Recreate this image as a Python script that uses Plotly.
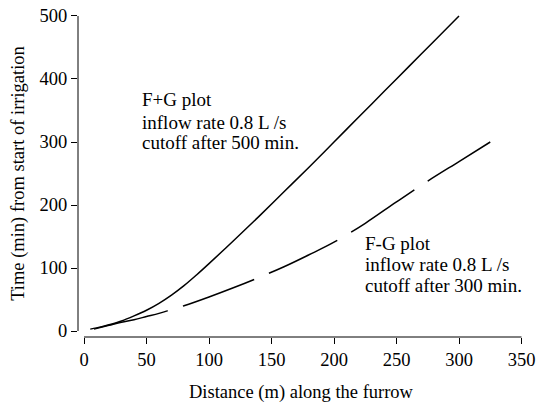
import plotly.graph_objects as go

# F+G plot (solid)
fg_x = [5, 10, 20, 30, 40, 50, 60, 70, 80, 90, 100, 120, 140, 160, 180, 200, 220, 240, 260, 280, 300]
fg_y = [3, 5, 10, 16, 24, 33, 44, 57, 72, 89, 107, 144, 182, 221, 260, 300, 340, 380, 420, 460, 500]

# F-G plot (dashed)
fmg_x = [8, 20, 30, 40, 50, 60, 70, 80, 100, 120, 140, 160, 180, 200, 225, 250, 275, 300, 325]
fmg_y = [3, 9, 14, 18, 23, 28, 34, 40, 54, 69, 85, 102, 121, 141, 171, 205, 238, 269, 300]

x_ticks = [0, 50, 100, 150, 200, 250, 300, 350]
y_ticks = [0, 100, 200, 300, 400, 500]

fg_label = ["F+G plot", "inflow rate 0.8 L /s", "cutoff after 500 min."]
fmg_label = ["F-G plot", "inflow rate 0.8 L /s", "cutoff after 300 min."]

FONT = "Liberation Serif, serif"
FS = 18.5

fig = go.Figure()
fig.add_trace(go.Scatter(x=fg_x, y=fg_y, mode="lines", line=dict(color="black", width=1.5, shape="spline"),
                         showlegend=False, hoverinfo="skip"))
fig.add_trace(go.Scatter(x=fmg_x, y=fmg_y, mode="lines",
                         line=dict(color="black", width=1.5, dash="76px,16px", shape="spline"),
                         showlegend=False, hoverinfo="skip"))

# detached axis lines
fig.add_shape(type="line", xref="x", yref="paper", x0=x_ticks[0], x1=x_ticks[-1], y0=0, y1=0,
              line=dict(color="black", width=1))
fig.add_shape(type="line", xref="paper", yref="y", x0=0, x1=0, y0=y_ticks[0], y1=y_ticks[-1],
              line=dict(color="black", width=1))

# text blocks, one annotation per line
for txt, yy in zip(fg_label, [366.7, 331.7, 300.0]):
    fig.add_annotation(x=44.8, y=yy, xref="x", yref="y", xanchor="left", yanchor="middle", align="left",
                       showarrow=False, text=txt, font=dict(family=FONT, size=19, color="black"))
for txt, yy in zip(fmg_label, [139.7, 104.8, 73.0]):
    fig.add_annotation(x=223.5, y=yy, xref="x", yref="y", xanchor="left", yanchor="middle", align="left",
                       showarrow=False, text=txt, font=dict(family=FONT, size=19, color="black"))

fig.update_layout(
    width=536, height=403,
    margin=dict(l=78, r=12, t=10, b=66),
    paper_bgcolor="white", plot_bgcolor="white",
    font=dict(family=FONT, size=FS, color="black"),
    xaxis=dict(range=[-4.8, 352], tickvals=x_ticks, ticks="outside", ticklen=6, tickwidth=1,
               tickcolor="black", showgrid=False, zeroline=False, showline=False, automargin=False,
               title=dict(text="Distance (m) along the furrow", standoff=16,
                          font=dict(family=FONT, size=FS, color="black")),
               tickfont=dict(family=FONT, size=FS, color="black")),
    yaxis=dict(range=[-9.5, 509.5], tickvals=y_ticks, ticks="outside", ticklen=6, tickwidth=1,
               tickcolor="black", showgrid=False, zeroline=False, showline=False, automargin=False,
               title=dict(text="Time (min) from start of irrigation", standoff=10,
                          font=dict(family=FONT, size=FS, color="black")),
               tickfont=dict(family=FONT, size=FS, color="black")),
)

fig.write_html("out.html")
